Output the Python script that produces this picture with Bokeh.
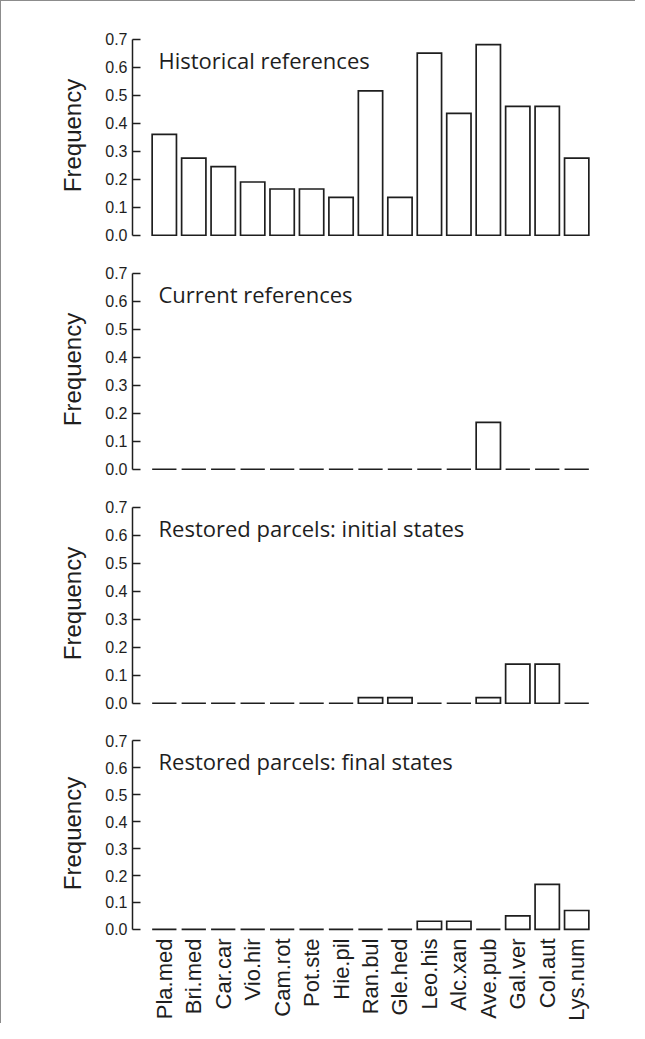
from bokeh.plotting import figure
from bokeh.layouts import column
from bokeh.models import FactorRange, Range1d, FixedTicker, PrintfTickFormatter, Label
from bokeh.embed import file_html
from bokeh.resources import INLINE
from math import pi

# ---- data ----
species = ["Pla.med", "Bri.med", "Car.car", "Vio.hir", "Cam.rot", "Pot.ste", "Hie.pil",
           "Ran.bul", "Gle.hed", "Leo.his", "Alc.xan", "Ave.pub", "Gal.ver", "Col.aut", "Lys.num"]
historical = [0.36, 0.275, 0.245, 0.19, 0.165, 0.165, 0.135, 0.515, 0.135, 0.65, 0.435, 0.68, 0.46, 0.46, 0.275]
current = [0, 0, 0, 0, 0, 0, 0, 0, 0, 0, 0, 0.167, 0, 0, 0]
initial = [0, 0, 0, 0, 0, 0, 0, 0.02, 0.02, 0, 0, 0.02, 0.14, 0.14, 0]
final = [0, 0, 0, 0, 0, 0, 0, 0, 0, 0.03, 0.03, 0, 0.05, 0.167, 0.07]
titles = ["Historical references", "Current references",
          "Restored parcels: initial states", "Restored parcels: final states"]
yticks = [0.0, 0.1, 0.2, 0.3, 0.4, 0.5, 0.6, 0.7]

INK = "#1e1e1e"


def make_panel(values, title, mt, mb, show_x):
    frame_h = 204
    p = figure(
        x_range=FactorRange(factors=species, range_padding=0.58, range_padding_units="absolute"),
        y_range=Range1d(-0.008, 0.72),
        width=634, height=mt + frame_h + mb,
        output_backend="svg", toolbar_location=None,
        min_border_left=131, min_border_right=27,
        min_border_top=mt, min_border_bottom=mb,
    )
    p.vbar(x=species, top=values, bottom=0, width=0.825,
           fill_color="white", line_color=INK, line_width=1.7, line_join="miter")
    p.xgrid.visible = False
    p.ygrid.visible = False
    p.outline_line_color = None
    p.background_fill_color = "white"
    p.border_fill_color = "white"

    ya = p.yaxis[0]
    ya.ticker = FixedTicker(ticks=yticks)
    ya.formatter = PrintfTickFormatter(format="%.1f")
    ya.bounds = (0, 0.7)
    ya.major_tick_in = 8
    ya.major_tick_out = 0
    ya.minor_tick_line_color = None
    ya.axis_line_width = 1.5
    ya.axis_line_color = INK
    ya.major_tick_line_width = 1.5
    ya.major_tick_line_color = INK
    ya.major_label_text_font = "Liberation Sans"
    ya.major_label_text_font_size = "16px"
    ya.major_label_text_color = INK
    ya.major_label_standoff = 5
    ya.axis_label = "Frequency"
    ya.axis_label_text_font = "Liberation Sans"
    ya.axis_label_text_font_size = "24px"
    ya.axis_label_text_font_style = "normal"
    ya.axis_label_text_color = INK
    ya.axis_label_standoff = 16

    xa = p.xaxis[0]
    if show_x:
        xa.axis_line_color = None
        xa.major_tick_line_color = None
        xa.minor_tick_line_color = None
        xa.major_label_orientation = pi / 2
        xa.major_label_text_font = "Liberation Sans"
        xa.major_label_text_font_size = "22px"
        xa.major_label_text_color = INK
        xa.major_label_standoff = 1
    else:
        xa.visible = False

    p.add_layout(Label(x=26, y=0.625, x_units="screen", y_units="data", text=title,
                       text_font="Open Sans", text_font_size="22px", text_color=INK,
                       text_baseline="alphabetic"))
    return p


p1 = make_panel(historical, titles[0], 32, 15, False)
p2 = make_panel(current, titles[1], 15, 15, False)
p3 = make_panel(initial, titles[2], 15, 15, False)
p4 = make_panel(final, titles[3], 15, 84, True)

layout = column(p1, p2, p3, p4, spacing=0,
                styles={"border-left": "1px solid #8c8c8c", "border-top": "1px solid #8c8c8c"})

open("out.html", "w").write(file_html(layout, INLINE))
